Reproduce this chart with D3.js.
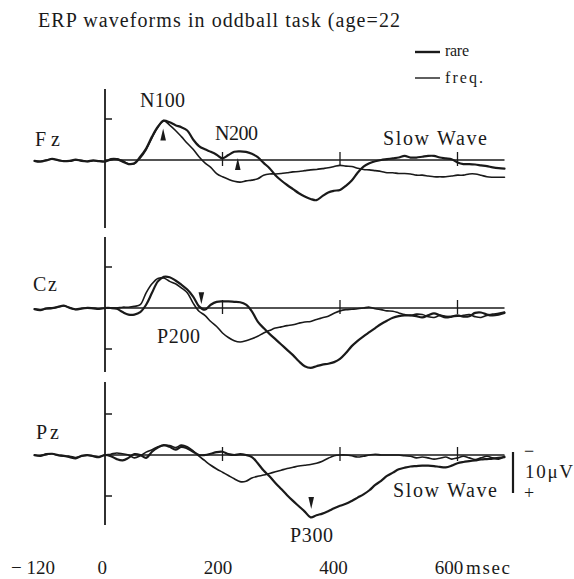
<!DOCTYPE html>
<html>
<head>
<meta charset="utf-8">
<script src="https://cdn.jsdelivr.net/npm/d3@7"></script>
<style>
  html, body { margin: 0; padding: 0; background: #fff; }
  svg { display: block; }
  text { font-family: "Liberation Serif", "Times New Roman", serif; fill: #1a1a1a; }
</style>
</head>
<body>
<svg id="chart" width="574" height="579"></svg>
<script>
// Sample times (ms), 10 ms apart, from -120 to 680
const times = [
  -120, -110, -100, -90, -80, -70, -60, -50, -40, -30, -20, -10,
  0, 10, 20, 30, 40, 50, 60, 70, 80, 90, 100,
  110, 120, 130, 140, 150, 160, 170, 180, 190, 200,
  210, 220, 230, 240, 250, 260, 270, 280, 290, 300,
  310, 320, 330, 340, 350, 360, 370, 380, 390, 400,
  410, 420, 430, 440, 450, 460, 470, 480, 490, 500,
  510, 520, 530, 540, 550, 560, 570, 580, 590, 600,
  610, 620, 630, 640, 650, 660, 670, 680
];

// Voltages in µV (negative plotted upward)
const fzRare = [
  0.2, 0.4, 0.1, -0.3, 0.0, 0.3, 0.2, -0.1, 0.2, 0.3, 0.1, 0.3,
  0.4, -0.2, -0.2, 0.4, 1.0, 0.8, -0.8, -2.8, -5.7, -8.1, -9.6,
  -9.2, -8.5, -8.0, -7.2, -5.0, -3.4, -2.6, -2.0, -1.3, -0.4,
  -1.2, -2.0, -2.1, -2.0, -1.5, -0.7, 0.7, 2.0, 3.7, 5.0,
  6.1, 7.1, 8.1, 8.9, 9.5, 9.8, 8.8, 7.9, 7.5, 7.3,
  6.3, 5.0, 3.1, 1.6, 0.8, 0.3, 0.0, -0.2, -0.4, -0.6,
  -1.0, -0.6, -0.6, -0.8, -1.0, -1.0, -0.6, -0.4, -0.2, 0.6,
  1.0, 1.0, 1.1, 1.3, 1.5, 1.8, 2.0, 2.1
];
const fzFreq = [
  0.3, 0.3, 0.0, -0.2, 0.1, 0.2, 0.3, 0.0, 0.1, 0.4, 0.2, 0.2,
  0.3, 0.0, -0.3, 0.2, 0.9, 0.9, -0.5, -2.5, -5.4, -8.0, -9.6,
  -8.5, -7.2, -5.7, -4.1, -2.6, -0.8, 0.7, 1.8, 3.3, 4.1,
  4.7, 5.2, 5.4, 5.1, 4.9, 4.6, 3.7, 3.4, 3.4, 3.3,
  3.1, 2.9, 2.8, 2.6, 2.4, 2.3, 2.1, 1.9, 1.6, 1.3,
  1.5, 1.6, 2.0, 2.3, 2.4, 2.6, 2.8, 3.1, 3.1, 3.3,
  3.3, 3.4, 3.7, 3.7, 3.9, 4.1, 4.1, 4.1, 3.9, 3.7,
  3.7, 3.4, 3.4, 3.7, 4.1, 4.2, 4.2, 4.2
];
const czRare = [
  0.3, 0.5, 0.1, 0.0, -0.3, -0.6, 0.0, 0.3, 0.1, 0.0, 0.1, 0.2,
  0.0, 0.0, 0.2, 1.0, 1.6, 1.6, 1.0, -0.8, -3.7, -6.5, -7.6,
  -7.5, -6.7, -5.7, -4.5, -2.8, -0.4, 0.4, -0.8, -1.5, -1.6,
  -1.6, -1.5, -1.4, -0.8, 0.8, 3.3, 4.9, 6.3, 7.6, 8.9,
  10.2, 11.5, 13.0, 14.2, 14.6, 14.2, 13.8, 13.6, 13.2, 12.4,
  11.0, 9.3, 8.0, 6.9, 5.9, 4.9, 3.9, 3.1, 2.4, 2.0,
  1.8, 1.8, 2.0, 2.3, 1.8, 1.3, 1.8, 2.3, 2.1, 1.8,
  2.1, 2.0, 1.2, 1.1, 1.6, 1.8, 1.6, 1.2
];
const czFreq = [
  0.2, 0.4, 0.2, 0.1, -0.2, -0.5, -0.1, 0.4, 0.2, -0.1, 0.0, 0.1,
  0.0, 0.0, 0.0, -0.2, -0.2, -0.4, -0.8, -3.7, -5.9, -7.2, -7.3,
  -6.5, -5.9, -4.9, -3.7, -1.2, 0.8, 1.8, 3.3, 4.5, 6.1,
  7.2, 8.0, 8.3, 8.0, 7.5, 6.9, 6.1, 5.5, 4.9, 4.6,
  4.3, 4.1, 3.7, 3.4, 3.3, 2.8, 2.4, 2.0, 1.3, 0.7,
  0.4, 0.3, 0.2, 0.0, -0.2, 0.2, 0.4, 0.7, 0.8, 1.2,
  1.6, 1.8, 1.5, 1.6, 2.1, 2.3, 1.8, 2.0, 2.1, 2.0,
  1.8, 1.6, 2.1, 2.3, 1.8, 1.5, 1.3, 1.0
];
const pzRare = [
  0.0, 0.2, -0.2, -0.3, 0.0, 0.2, 0.5, 0.8, 0.2, 0.0, 0.3, 0.5,
  0.0, 0.3, 1.0, 1.3, 0.7, -0.2, 0.0, 0.7, -0.8, -1.8, -2.4,
  -2.0, -1.3, -2.0, -1.6, -0.8, 0.0, 0.0, -0.3, -0.7, -0.8,
  -0.2, 0.0, -0.2, 0.0, 0.5, 2.0, 3.8, 5.2, 6.8, 8.3,
  9.8, 11.2, 12.5, 13.8, 15.2, 14.7, 14.3, 13.7, 13.0, 12.4,
  11.9, 11.2, 10.4, 9.6, 8.6, 7.3, 6.3, 5.1, 4.3, 3.5,
  3.1, 2.8, 2.7, 2.6, 2.6, 2.7, 2.9, 3.0, 2.6, 2.0,
  1.7, 1.5, 1.3, 1.1, 1.0, 0.9, 0.7, 0.5
];
const pzFreq = [
  0.1, 0.1, -0.1, -0.3, 0.1, 0.3, 0.3, 0.6, 0.3, 0.1, 0.2, 0.4,
  0.0, -0.2, -0.5, -0.3, 0.0, 0.7, 0.2, -0.7, -1.3, -2.0, -2.3,
  -2.3, -1.8, -2.4, -2.0, -1.0, 0.3, 1.4, 2.5, 3.4, 4.2,
  5.0, 5.8, 6.5, 6.4, 5.6, 5.2, 4.9, 4.5, 4.1, 3.7,
  3.3, 3.0, 2.7, 2.5, 2.3, 2.0, 1.5, 0.8, 0.2, 0.0,
  0.0, 0.2, 0.5, 0.3, 0.0, -0.2, 0.0, 0.0, 0.0, 0.0,
  0.2, 0.3, 0.7, 0.5, 0.7, 1.0, 0.8, 0.5, 1.0, 0.7,
  0.3, 0.7, 1.1, 0.7, 0.3, 0.7, 1.0, 0.3
];

const channels = ["Fz", "Cz", "Pz"];
const seriesNames = ["rare", "freq."];
const axisLabels = ["−120", "0", "200", "400", "600"];
const axisLabelTimes = [-120, 0, 200, 400, 600];
const markerTimes = [200, 400, 600];
const unitLabel = "msec";
const titleText = "ERP waveforms in oddball task (age=22";

// Component annotations: arrow at (time, µV) pointing up or down
const components = [
  { ch: "Fz", name: "N100", t: 99,  v: -7.7, dir: "up" },
  { ch: "Fz", name: "N200", t: 226, v: -0.5, dir: "up" },
  { ch: "Cz", name: "P200", t: 164, v: -0.9, dir: "down" },
  { ch: "Pz", name: "P300", t: 351, v: 13.2, dir: "down" }
];

const waves = {
  Fz: { rare: fzRare, freq: fzFreq },
  Cz: { rare: czRare, freq: czFreq },
  Pz: { rare: pzRare, freq: pzFreq }
};

// ---- layout ----
const ink = "#1a1a1a";
const svg = d3.select("#chart");
const x = d3.scaleLinear().domain([0, 600]).range([105, 457.5]);
const labelX = d3.scaleLinear().domain([-120, 600]).range([33, 449]);

const panels = {
  Fz: { base: 160, axis: [89, 228],  ticks: [-10],     label: [35, 146], lw: 25 },
  Cz: { base: 308, axis: [237, 372], ticks: [-10, 10], label: [33, 291], lw: 24 },
  Pz: { base: 455, axis: [382, 525], ticks: [-10, 10], label: [36, 439], lw: 23 }
};
const pxPerUV = 4.1;
const yScale = ch => d3.scaleLinear()
  .domain([-10, 10])
  .range([panels[ch].base - 10 * pxPerUV, panels[ch].base + 10 * pxPerUV]);

function txt(s, xPos, yPos, size, width) {
  const t = svg.append("text").attr("x", xPos).attr("y", yPos)
    .attr("font-size", size).attr("fill", ink).text(s);
  if (width) t.attr("textLength", width).attr("lengthAdjust", "spacing");
  return t;
}

// Title
txt(titleText, 38, 27, 20, 362);

// Legend
const legend = [
  { name: seriesNames[0], y: 52, sw: 2.4, ty: 56, w: 24 },
  { name: seriesNames[1], y: 78, sw: 1.4, ty: 83, w: 38 }
];
legend.forEach(d => {
  svg.append("line").attr("x1", 415).attr("x2", 440).attr("y1", d.y).attr("y2", d.y)
    .attr("stroke", ink).attr("stroke-width", d.sw);
  txt(d.name, 445, d.ty, 16, d.w);
});

const line = y => d3.line()
  .x((d, i) => x(times[i]))
  .y(d => y(d))
  .curve(d3.curveCatmullRom.alpha(0.5));

channels.forEach(ch => {
  const p = panels[ch];
  const y = yScale(ch);
  const g = svg.append("g");

  // vertical axis at stimulus onset
  g.append("line").attr("x1", x(0)).attr("x2", x(0))
    .attr("y1", p.axis[0]).attr("y2", p.axis[1])
    .attr("stroke", ink).attr("stroke-width", 1.8);
  p.ticks.forEach(v => {
    g.append("line").attr("x1", x(0)).attr("x2", x(0) + 7)
      .attr("y1", y(v)).attr("y2", y(v))
      .attr("stroke", ink).attr("stroke-width", 1.5);
  });

  // zero baseline with time markers
  g.append("line").attr("x1", x(0)).attr("x2", x(680))
    .attr("y1", y(0)).attr("y2", y(0))
    .attr("stroke", ink).attr("stroke-width", 1.3);
  markerTimes.forEach(t => {
    g.append("line").attr("x1", x(t)).attr("x2", x(t))
      .attr("y1", y(0) - 8).attr("y2", y(0) + 6)
      .attr("stroke", ink).attr("stroke-width", 1.3);
  });

  // waveforms
  g.append("path").datum(waves[ch].freq).attr("d", line(y))
    .attr("fill", "none").attr("stroke", ink).attr("stroke-width", 1.6)
    .attr("stroke-linejoin", "round").attr("stroke-linecap", "round");
  g.append("path").datum(waves[ch].rare).attr("d", line(y))
    .attr("fill", "none").attr("stroke", ink).attr("stroke-width", 2.2)
    .attr("stroke-linejoin", "round").attr("stroke-linecap", "round");

  // channel name
  txt(ch, p.label[0], p.label[1], 20, p.lw);
});

// component arrows
components.forEach(c => {
  const y = yScale(c.ch);
  const tx = x(c.t), ty = y(c.v);
  const s = c.dir === "up" ? 1 : -1;
  svg.append("path")
    .attr("d", `M${tx},${ty} L${tx - 2.8},${ty + s * 12} L${tx + 2.8},${ty + s * 12} Z`)
    .attr("fill", ink);
});

// component labels
const compLabels = [
  { s: "N100", x: 140, y: 107, w: 45 },
  { s: "N200", x: 215, y: 140, w: 43 },
  { s: "P200", x: 157, y: 343, w: 43 },
  { s: "P300", x: 290, y: 542, w: 43 },
  { s: "Slow Wave", x: 383, y: 145, w: 104 },
  { s: "Slow Wave", x: 393, y: 497, w: 104 }
];
compLabels.forEach(d => txt(d.s, d.x, d.y, 20, d.w));

// amplitude scale bar (10 µV)
svg.append("line").attr("x1", 513).attr("x2", 513)
  .attr("y1", 452).attr("y2", 452 + 10 * pxPerUV)
  .attr("stroke", ink).attr("stroke-width", 2.2);
txt("−", 524, 457, 18);
txt("10μV", 525, 478, 19, 48);
txt("+", 524, 499, 18);

// time axis labels
axisLabels.forEach((s, i) => {
  const t = svg.append("text").attr("x", labelX(axisLabelTimes[i])).attr("y", 574)
    .attr("font-size", 19).attr("fill", ink).attr("text-anchor", "middle");
  if (s.startsWith("−")) {
    t.append("tspan").text("−");
    t.append("tspan").attr("dx", 5).text(s.slice(1));
  } else {
    t.text(s);
  }
});
txt(unitLabel, 466, 574, 19, 44);
</script>
</body>
</html>
